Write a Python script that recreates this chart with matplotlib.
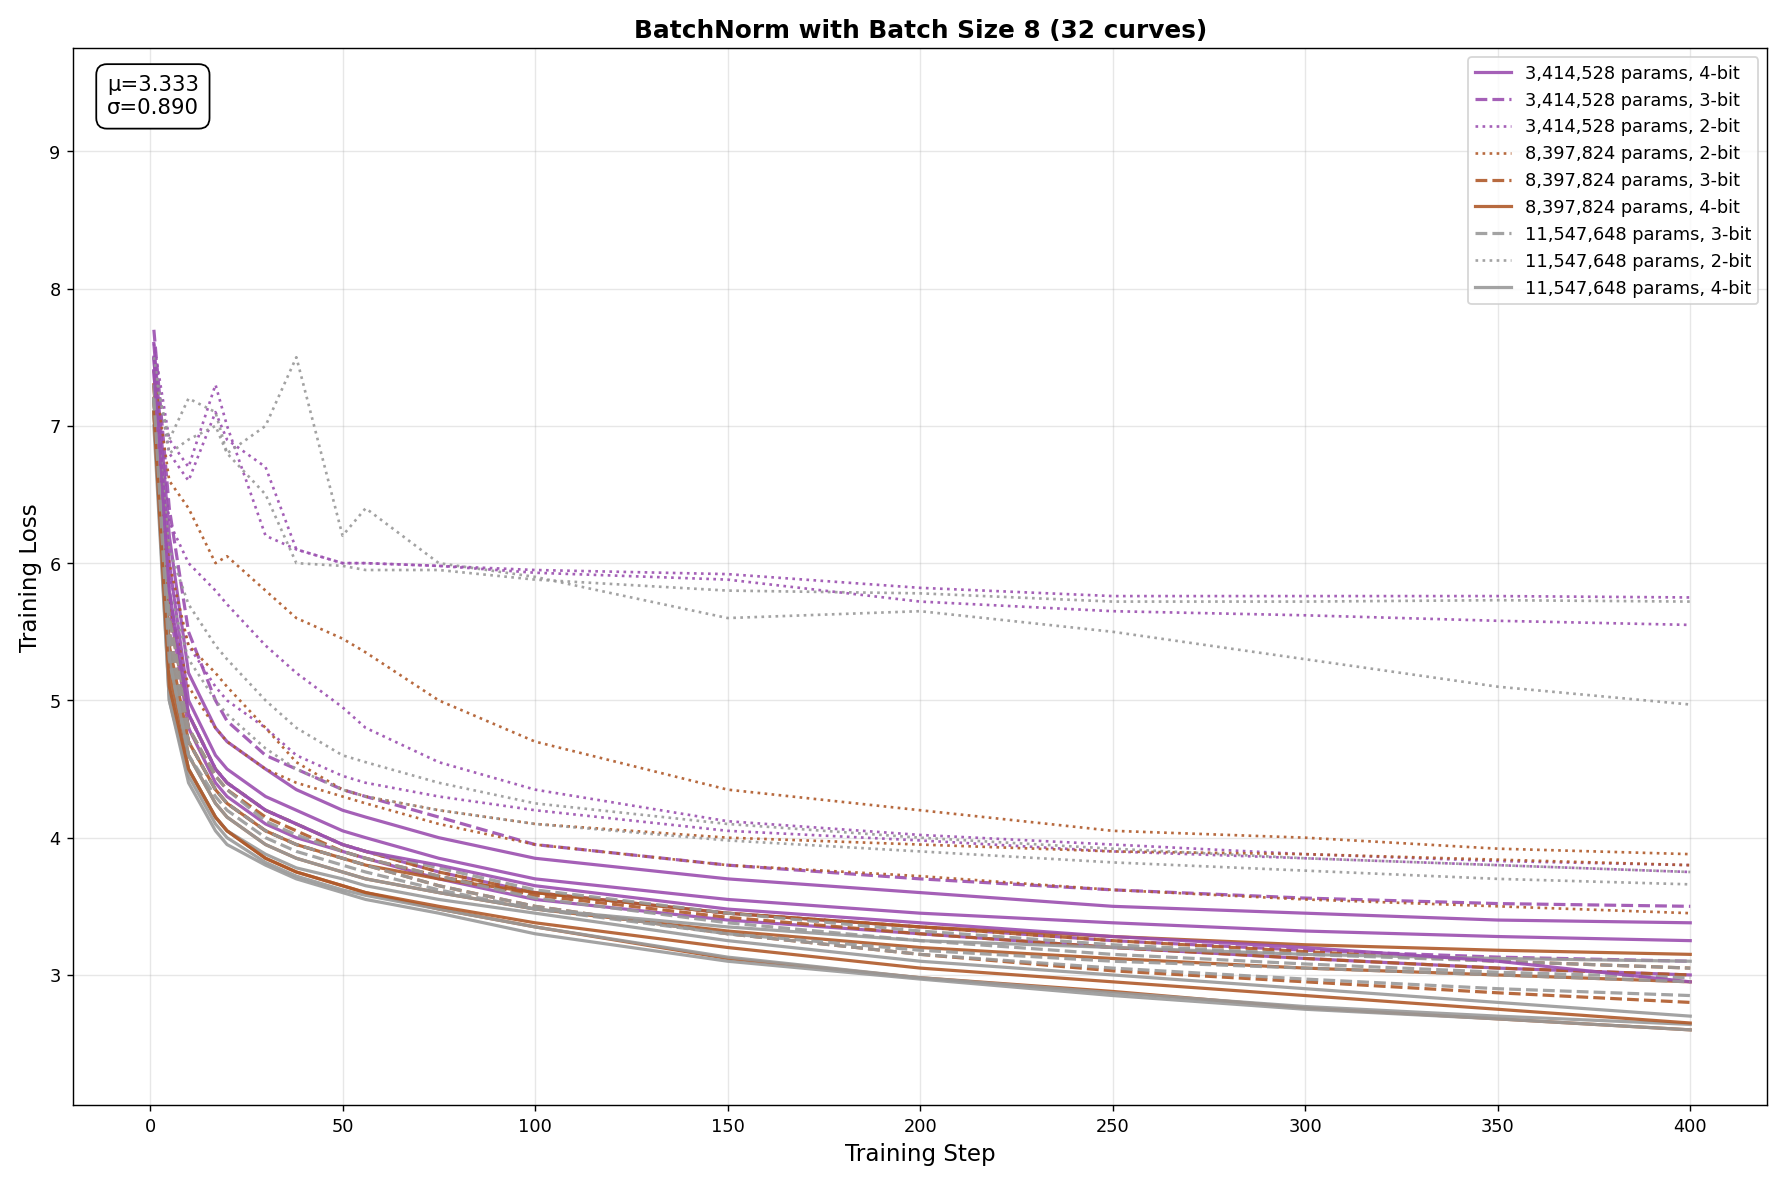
import matplotlib.pyplot as plt

PURPLE = '#9b4fb0'
BROWN = '#b05a2a'
GREY = '#999999'

steps = [1, 5, 10, 17, 20, 30, 38, 50, 56, 75, 100, 150, 200, 250, 300, 350, 400]

# (group label, colour, style, values at steps)
curves = [
    # 3,414,528 params
    ("3,414,528 params, 4-bit", PURPLE, '-', [7.6, 6.2, 5.2, 4.8, 4.7, 4.5, 4.35, 4.2, 4.15, 4.0, 3.85, 3.7, 3.6, 3.5, 3.45, 3.4, 3.38]),
    ("3,414,528 params, 4-bit", PURPLE, '-', [7.5, 6.0, 5.0, 4.6, 4.5, 4.3, 4.2, 4.05, 4.0, 3.85, 3.7, 3.55, 3.45, 3.38, 3.32, 3.28, 3.25]),
    ("3,414,528 params, 4-bit", PURPLE, '-', [7.4, 5.7, 4.8, 4.4, 4.3, 4.1, 4.0, 3.9, 3.85, 3.7, 3.55, 3.4, 3.3, 3.2, 3.12, 3.05, 3.0]),
    ("3,414,528 params, 3-bit", PURPLE, '--', [7.7, 6.4, 5.5, 5.0, 4.85, 4.6, 4.5, 4.35, 4.3, 4.15, 3.95, 3.8, 3.7, 3.62, 3.56, 3.52, 3.5]),
    ("3,414,528 params, 3-bit", PURPLE, '--', [7.5, 5.8, 4.9, 4.5, 4.4, 4.2, 4.1, 3.95, 3.9, 3.75, 3.6, 3.45, 3.35, 3.25, 3.18, 3.13, 3.1]),
    ("3,414,528 params, 2-bit", PURPLE, ':', [7.6, 6.9, 6.7, 7.3, 7.0, 6.2, 6.1, 6.0, 6.0, 5.98, 5.95, 5.92, 5.82, 5.76, 5.76, 5.76, 5.75]),
    ("3,414,528 params, 2-bit", PURPLE, ':', [7.5, 6.8, 6.6, 7.1, 6.9, 6.7, 6.1, 6.0, 6.0, 5.98, 5.93, 5.88, 5.72, 5.65, 5.62, 5.58, 5.55]),
    ("3,414,528 params, 2-bit", PURPLE, ':', [7.5, 6.3, 6.0, 5.8, 5.7, 5.4, 5.2, 4.95, 4.8, 4.55, 4.35, 4.12, 4.02, 3.95, 3.88, 3.83, 3.8]),
    ("3,414,528 params, 2-bit", PURPLE, ':', [7.3, 5.9, 5.4, 5.1, 5.0, 4.8, 4.6, 4.45, 4.4, 4.3, 4.2, 4.05, 3.98, 3.9, 3.85, 3.8, 3.75]),
    # 8,397,824 params
    ("8,397,824 params, 2-bit", BROWN, ':', [7.4, 6.6, 6.4, 6.0, 6.05, 5.8, 5.6, 5.45, 5.35, 5.0, 4.7, 4.35, 4.2, 4.05, 4.0, 3.92, 3.88]),
    ("8,397,824 params, 2-bit", BROWN, ':', [7.3, 6.0, 5.4, 5.2, 5.1, 4.8, 4.55, 4.35, 4.3, 4.2, 4.1, 4.0, 3.95, 3.9, 3.88, 3.84, 3.8]),
    ("8,397,824 params, 2-bit", BROWN, ':', [7.2, 5.7, 5.1, 4.8, 4.7, 4.5, 4.4, 4.3, 4.25, 4.1, 3.95, 3.8, 3.72, 3.62, 3.55, 3.5, 3.45]),
    ("8,397,824 params, 3-bit", BROWN, '--', [7.3, 5.6, 4.9, 4.5, 4.4, 4.2, 4.1, 3.95, 3.9, 3.75, 3.6, 3.45, 3.35, 3.25, 3.17, 3.1, 3.05]),
    ("8,397,824 params, 3-bit", BROWN, '--', [7.2, 5.4, 4.7, 4.35, 4.25, 4.05, 3.95, 3.85, 3.8, 3.65, 3.5, 3.3, 3.15, 3.03, 2.95, 2.87, 2.8]),
    ("8,397,824 params, 3-bit", BROWN, '--', [7.2, 5.5, 4.8, 4.45, 4.35, 4.15, 4.05, 3.9, 3.85, 3.72, 3.58, 3.42, 3.3, 3.2, 3.12, 3.05, 3.0]),
    ("8,397,824 params, 4-bit", BROWN, '-', [7.3, 5.4, 4.7, 4.35, 4.25, 4.05, 3.95, 3.85, 3.8, 3.7, 3.6, 3.45, 3.35, 3.28, 3.22, 3.18, 3.15]),
    ("8,397,824 params, 4-bit", BROWN, '-', [7.2, 5.3, 4.6, 4.25, 4.15, 3.95, 3.85, 3.75, 3.7, 3.6, 3.48, 3.32, 3.2, 3.12, 3.05, 3.0, 2.95]),
    ("8,397,824 params, 4-bit", BROWN, '-', [7.1, 5.2, 4.5, 4.15, 4.05, 3.85, 3.75, 3.65, 3.6, 3.48, 3.35, 3.12, 2.98, 2.88, 2.76, 2.68, 2.6]),
    # 11,547,648 params
    ("11,547,648 params, 3-bit", GREY, '--', [7.3, 5.6, 4.9, 4.5, 4.4, 4.2, 4.1, 3.95, 3.9, 3.78, 3.62, 3.45, 3.32, 3.22, 3.15, 3.1, 3.05]),
    ("11,547,648 params, 3-bit", GREY, '--', [7.2, 5.4, 4.7, 4.35, 4.25, 4.05, 3.95, 3.85, 3.8, 3.65, 3.5, 3.3, 3.15, 3.05, 2.97, 2.9, 2.85]),
    ("11,547,648 params, 3-bit", GREY, '--', [7.2, 5.5, 4.8, 4.45, 4.35, 4.12, 4.02, 3.9, 3.85, 3.72, 3.56, 3.38, 3.25, 3.15, 3.08, 3.02, 2.98]),
    ("11,547,648 params, 2-bit", GREY, ':', [7.4, 6.9, 7.2, 7.1, 6.8, 7.0, 7.5, 6.2, 6.4, 6.0, 5.9, 5.6, 5.65, 5.5, 5.3, 5.1, 4.97]),
    ("11,547,648 params, 2-bit", GREY, ':', [7.5, 6.8, 6.9, 7.0, 6.8, 6.5, 6.0, 5.98, 5.95, 5.95, 5.88, 5.8, 5.78, 5.72, 5.72, 5.73, 5.72]),
    ("11,547,648 params, 2-bit", GREY, ':', [7.3, 6.1, 5.7, 5.4, 5.3, 5.0, 4.8, 4.6, 4.55, 4.4, 4.25, 4.1, 4.0, 3.92, 3.85, 3.8, 3.75]),
    ("11,547,648 params, 2-bit", GREY, ':', [7.2, 5.8, 5.3, 5.0, 4.9, 4.65, 4.5, 4.35, 4.3, 4.2, 4.1, 3.98, 3.9, 3.82, 3.76, 3.7, 3.66]),
    ("11,547,648 params, 4-bit", GREY, '-', [7.2, 5.3, 4.6, 4.25, 4.15, 3.95, 3.85, 3.75, 3.7, 3.6, 3.48, 3.35, 3.25, 3.2, 3.15, 3.12, 3.1]),
    ("11,547,648 params, 4-bit", GREY, '-', [7.1, 5.1, 4.5, 4.15, 4.05, 3.88, 3.78, 3.7, 3.65, 3.55, 3.45, 3.25, 3.1, 3.0, 2.9, 2.8, 2.7]),
    ("11,547,648 params, 4-bit", GREY, '-', [7.0, 5.0, 4.4, 4.05, 3.95, 3.8, 3.7, 3.6, 3.55, 3.45, 3.3, 3.1, 2.97, 2.85, 2.75, 2.68, 2.6]),
    ("11,547,648 params, 4-bit", GREY, '-', [7.1, 5.0, 4.45, 4.1, 4.0, 3.82, 3.72, 3.62, 3.58, 3.48, 3.35, 3.13, 2.98, 2.87, 2.77, 2.7, 2.64]),
    ("8,397,824 params, 4-bit", BROWN, '-', [7.1, 5.1, 4.5, 4.15, 4.05, 3.85, 3.75, 3.65, 3.6, 3.5, 3.38, 3.2, 3.05, 2.95, 2.85, 2.75, 2.65]),
    ("3,414,528 params, 4-bit", PURPLE, '-', [7.4, 5.8, 4.9, 4.5, 4.4, 4.2, 4.1, 3.95, 3.9, 3.8, 3.65, 3.48, 3.38, 3.28, 3.2, 3.1, 2.95]),
    ("11,547,648 params, 3-bit", GREY, '--', [7.2, 5.3, 4.6, 4.3, 4.2, 4.0, 3.9, 3.8, 3.75, 3.62, 3.48, 3.3, 3.18, 3.1, 3.05, 3.0, 2.95]),
]

legend_order = [
    "3,414,528 params, 4-bit", "3,414,528 params, 3-bit", "3,414,528 params, 2-bit",
    "8,397,824 params, 2-bit", "8,397,824 params, 3-bit", "8,397,824 params, 4-bit",
    "11,547,648 params, 3-bit", "11,547,648 params, 2-bit", "11,547,648 params, 4-bit",
]

fig, ax = plt.subplots(figsize=(14, 9.29), dpi=127.6)
handles = {}
for label, color, ls, vals in curves:
    lw = 1.8 if ls != ':' else 1.5
    line, = ax.plot(steps, vals, color=color, linestyle=ls, linewidth=lw, alpha=0.9)
    handles.setdefault(label, line)

ax.legend([handles[k] for k in legend_order], legend_order, loc='upper right', fontsize=10)
ax.set_xlim(-20, 420)
ax.set_ylim(2.05, 9.75)
ax.set_xlabel("Training Step", fontsize=13)
ax.set_ylabel("Training Loss", fontsize=13)
ax.set_title("BatchNorm with Batch Size 8 (32 curves)", fontsize=14, fontweight='bold')
ax.grid(True, alpha=0.3)
ax.text(0.02, 0.975, "μ=3.333\nσ=0.890", transform=ax.transAxes, va='top', fontsize=12,
        bbox=dict(boxstyle='round,pad=0.5', facecolor='white', edgecolor='black'))

plt.tight_layout()
plt.savefig("out.png")
